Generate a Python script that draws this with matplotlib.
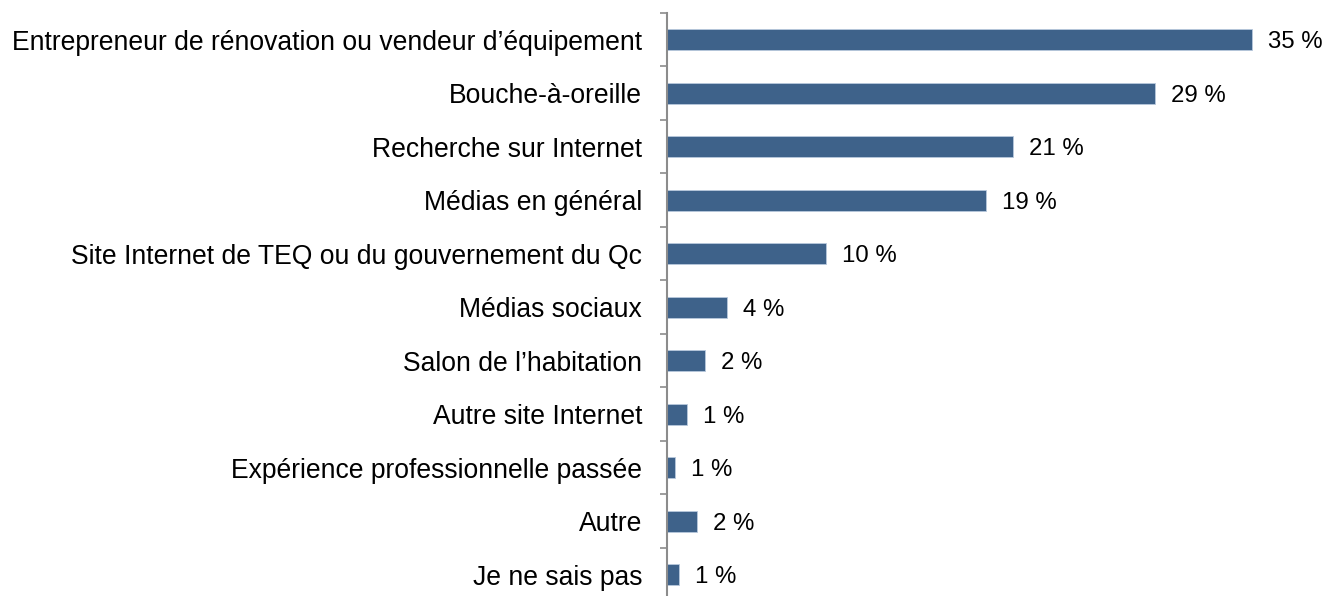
import matplotlib.pyplot as plt
import numpy as np

plt.rcParams['font.family'] = ['Liberation Sans', 'DejaVu Sans']

# categories top to bottom
categories = [
    "Entrepreneur de rénovation ou vendeur d’équipement",
    "Bouche-à-oreille",
    "Recherche sur Internet",
    "Médias en général",
    "Site Internet de TEQ ou du gouvernement du Qc",
    "Médias sociaux",
    "Salon de l’habitation",
    "Autre site Internet",
    "Expérience professionnelle passée",
    "Autre",
    "Je ne sais pas",
]
values = [35.0, 29.2, 20.7, 19.1, 9.5, 3.6, 2.3, 1.2, 0.5, 1.8, 0.7]
value_labels = ["35 %", "29 %", "21 %", "19 %", "10 %", "4 %", "2 %", "1 %", "1 %", "2 %", "1 %"]

fig = plt.figure(figsize=(13.24, 5.96), dpi=100)
ax = fig.add_axes([0.5038, -0.0092, 0.4962, 0.9874])

y = np.arange(len(categories))
ax.barh(y, values, height=0.39, color='#3E628A', edgecolor='#b8c8dc', linewidth=0.6)
ax.set_ylim(len(categories) - 0.5, -0.5)
ax.set_xlim(0, 39.33)

for yi, v, lab in zip(y, values, value_labels):
    ax.annotate(lab, (v, yi), xytext=(11.5, 0), textcoords='offset points',
                va='center_baseline', ha='left', fontsize=17.3, color='black')

ax.set_yticks(y)
ax.set_yticklabels(categories, fontsize=19.1, va='center_baseline')
ax.tick_params(axis='y', which='major', length=0, pad=18)
ax.set_yticks(np.arange(len(categories) + 1) - 0.5, minor=True)
ax.tick_params(axis='y', which='minor', length=5, width=1.2, color='#8c8c8c')

ax.set_xticks([])
for s in ['top', 'right', 'bottom']:
    ax.spines[s].set_visible(False)
ax.spines['left'].set_color('#8c8c8c')
ax.spines['left'].set_linewidth(1.5)

fig.savefig('out.png', dpi=100)
